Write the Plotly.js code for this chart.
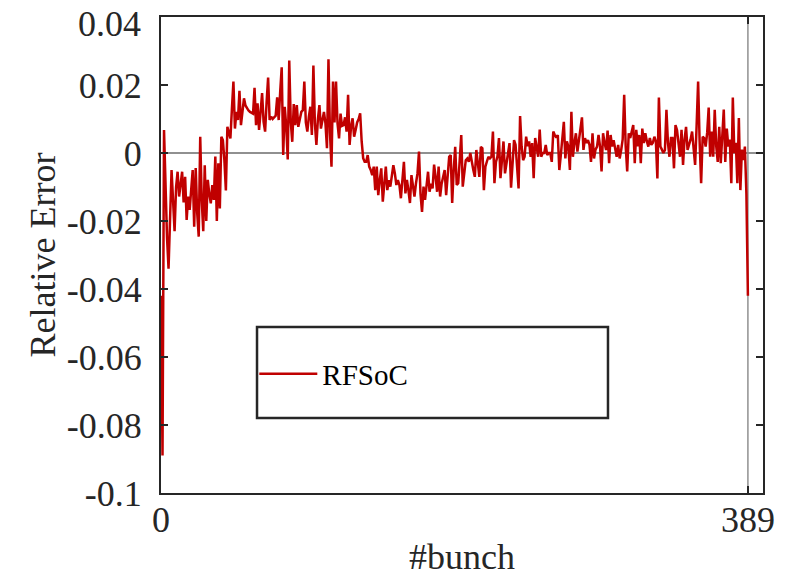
<!DOCTYPE html>
<html>
<head>
<meta charset="utf-8">
<script src="https://cdn.plot.ly/plotly-3.0.1.min.js"></script>
<style>
  html, body { margin: 0; padding: 0; background: #ffffff; }
  #chart { width: 785px; height: 577px; }
</style>
</head>
<body>
<div id="chart"></div>
<script>
// Relative error of the RFSoC measurement for each bunch (bunch 0 .. 389)
const bunchError = [
  -0.042, -0.089, 0.0068, -0.012, -0.025, -0.034, -0.016, -0.005, -0.014, -0.023,
  -0.010, -0.0055, -0.0128, -0.009, -0.0055, -0.0145, -0.007, -0.0197, -0.0128, -0.0167,
  -0.009, -0.005, -0.0217, -0.0044, -0.0177, -0.0246, 0.0048, -0.0138, -0.023, -0.0036,
  -0.020, -0.0079, -0.0120, -0.0148, -0.0094, -0.0138, -0.001, -0.020, -0.003, -0.0163,
  0.0048, 0.0038, -0.002, -0.011, 0.0077, 0.0060, 0.0043, 0.0130, 0.021, 0.0072,
  0.0121, 0.0097, 0.0183, 0.0082, 0.0120, 0.0161, 0.0140, 0.0131, 0.0125, 0.0121,
  0.0118, 0.0116, 0.0192, 0.0082, 0.0146, 0.0068, 0.0120, 0.0176, 0.0092, 0.0063,
  0.0150, 0.0222, 0.0097, 0.0107, 0.0100, 0.0105, 0.0110, 0.0164, 0.0097, 0.0180,
  0.0252, -0.0006, 0.0136, 0.0080, -0.0019, 0.0272, 0.0092, 0.0033, 0.0144, 0.0082,
  0.0141, 0.0077, 0.0100, 0.0121, 0.0126, 0.0210, 0.0090, 0.0063, 0.0107, 0.0136,
  0.0053, 0.0257, 0.0087, 0.0024, 0.0100, 0.0141, 0.0072, 0.0100, 0.0121, 0.0087,
  0.0014, 0.0276, 0.0060, -0.0040, 0.0210, 0.0090, 0.0210, 0.0087, 0.0043, 0.0116,
  0.0080, 0.0082, 0.0105, 0.0063, 0.0171, 0.0024, 0.0080, 0.0102, 0.0048, 0.0068,
  0.0090, 0.0100, 0.0117, 0.0034, -0.0015, -0.0026, -0.0026, -0.0006, -0.0040, -0.0050,
  -0.0065, -0.0040, -0.0109, -0.0040, -0.0124, -0.0080, -0.0045, -0.0143, -0.0090, -0.0040,
  -0.0109, -0.0080, -0.0099, -0.0065, -0.0036, -0.0060, -0.0094, -0.0080, -0.0094, -0.0133,
  -0.0070, -0.0026, -0.0119, -0.0079, -0.0110, -0.0147, -0.0065, -0.0100, -0.0128, -0.0089,
  -0.0060, 0.0004, -0.0120, -0.0173, -0.0099, -0.0138, -0.0090, -0.0055, -0.0114, -0.0090,
  -0.0104, -0.0034, -0.0070, -0.0114, -0.0040, -0.0128, -0.0090, -0.0074, -0.0050, -0.0124,
  -0.0060, -0.0011, -0.0006, -0.0147, -0.0050, 0.0018, -0.0094, -0.0089, -0.0020, 0.0053,
  -0.0099, -0.0050, -0.0021, -0.0016, -0.0026, 0.0000, -0.0030, -0.0050, -0.0070, 0.0009,
  -0.0030, -0.0070, 0.0018, 0.0014, -0.0109, -0.0040, -0.0025, -0.0011, -0.0016, -0.0011,
  0.0063, -0.0089, -0.0026, -0.0010, 0.0044, -0.0074, -0.0021, 0.0034, -0.0060, -0.0030,
  -0.0010, 0.0029, -0.0102, -0.0020, 0.0038, 0.0024, -0.0040, -0.0104, 0.0109, 0.0020,
  -0.0021, -0.0011, 0.0048, 0.0020, 0.0034, -0.0011, 0.0029, -0.0074, 0.0044, 0.0010,
  -0.0011, 0.0069, -0.0011, 0.0000, 0.0000, 0.0024, -0.0006, 0.0000, 0.0000, -0.0026,
  0.0063, 0.0053, 0.0045, 0.0053, -0.0050, -0.0006, 0.0040, 0.0092, -0.0016, 0.0034,
  0.0019, -0.0050, 0.0121, -0.0011, 0.0030, 0.0058, 0.0004, 0.0034, 0.0060, 0.0105,
  0.0009, 0.0044, 0.0030, 0.0038, 0.0024, -0.0026, 0.0058, -0.0016, 0.0010, 0.0019,
  0.0053, 0.0019, -0.0054, 0.0058, 0.0030, 0.0009, 0.0066, -0.0030, 0.0053, 0.0019,
  0.0038, 0.0010, -0.0011, 0.0024, -0.0016, 0.0009, 0.0040, 0.0171, 0.0019, -0.0054,
  0.0058, 0.0044, 0.0060, 0.0082, -0.0030, 0.0068, 0.0020, 0.0053, -0.0030, 0.0072,
  0.0029, 0.0058, 0.0035, 0.0019, 0.0044, 0.0024, 0.0030, 0.0048, 0.0034, -0.0075,
  0.0163, 0.0019, 0.0010, 0.0000, 0.0009, 0.0127, 0.0030, -0.0011, 0.0044, 0.0044,
  -0.0045, 0.0082, 0.0068, 0.0020, -0.0011, 0.0068, -0.0035, 0.0040, 0.0077, 0.0009,
  0.0024, 0.0040, 0.0063, 0.0019, -0.0035, 0.0080, 0.0210, 0.0034, -0.0089, 0.0048,
  0.0044, 0.0019, 0.0060, 0.0134, -0.0011, 0.0063, -0.0011, 0.0127, 0.0020, -0.0026,
  0.0077, -0.0030, 0.0050, 0.0128, -0.0026, 0.0072, 0.0019, 0.0040, -0.0089, 0.0163,
  0.0000, 0.0030, -0.0089, 0.0103, -0.0109, 0.0010, -0.0021, 0.0019, -0.0120, -0.042
];

// Bunch numbers 0 .. 389
const bunchIndex = bunchError.map((_, i) => i);

// Axis ticks and their labels
const yTickValues = [-0.1, -0.08, -0.06, -0.04, -0.02, 0, 0.02, 0.04];
const yTickLabels = ['-0.1', '-0.08', '-0.06', '-0.04', '-0.02', '0', '0.02', '0.04'];
const lastBunch = bunchIndex[bunchIndex.length - 1];
const xTickValues = [0, lastBunch];
const xTickLabels = ['0', String(lastBunch)];

const seriesName = 'RFSoC';

const serif = 'Liberation Serif, Times New Roman, serif';
const axisColor = '#262626';

// The topmost y label sits at the very edge of the figure, so it is
// written as an annotation nudged slightly downward to keep it inside.
const topIdx = yTickValues.length - 1;
const yTickTextOnAxis = yTickLabels.map((t, k) => (k === topIdx ? '' : t));

const trace = {
  x: bunchIndex,
  y: bunchError,
  type: 'scatter',
  mode: 'lines',
  name: seriesName,
  line: { color: '#c00000', width: 2.5 },
  showlegend: true
};

const layout = {
  width: 785,
  height: 577,
  paper_bgcolor: '#ffffff',
  plot_bgcolor: '#ffffff',
  margin: { l: 161, r: 22, t: 17, b: 84, pad: 0 },
  font: { family: serif, size: 36, color: axisColor },
  xaxis: {
    range: [0, 399],
    tickvals: xTickValues,
    ticktext: xTickLabels,
    ticks: 'inside',
    ticklen: 7,
    tickwidth: 2,
    tickcolor: axisColor,
    showline: true,
    linecolor: axisColor,
    linewidth: 2,
    mirror: 'ticks',
    showgrid: false,
    zeroline: false,
    ticklabelstandoff: -6,
    ticklabeloverflow: 'allow',
    tickfont: { family: serif, size: 36, color: axisColor },
    title: { text: '#bunch', font: { family: serif, size: 36, color: axisColor }, standoff: 22 },
    automargin: false
  },
  yaxis: {
    range: [-0.1, 0.04001],
    tickvals: yTickValues,
    ticktext: yTickTextOnAxis,
    ticks: 'inside',
    ticklen: 7,
    tickwidth: 2,
    tickcolor: axisColor,
    showline: true,
    linecolor: axisColor,
    linewidth: 2,
    mirror: 'ticks',
    showgrid: false,
    zeroline: true,
    zerolinecolor: '#909090',
    zerolinewidth: 1.5,
    ticklabelstandoff: 10,
    ticklabeloverflow: 'allow',
    tickfont: { family: serif, size: 36, color: axisColor },
    title: { text: 'Relative Error', font: { family: serif, size: 36, color: axisColor }, standoff: 0 },
    automargin: false
  },
  annotations: [
    {
      xref: 'paper', yref: 'y',
      x: 0, y: yTickValues[topIdx],
      xanchor: 'right', yanchor: 'middle',
      xshift: -18, yshift: -7,
      text: yTickLabels[topIdx],
      showarrow: false,
      font: { family: serif, size: 36, color: axisColor }
    }
  ],
  shapes: [
    // marker line at the last bunch
    {
      type: 'line', xref: 'x', yref: 'paper',
      x0: lastBunch, x1: lastBunch, y0: 0, y1: 1,
      line: { color: '#909090', width: 1.5 },
      layer: 'below'
    },
    // legend frame
    {
      type: 'rect', xref: 'paper', yref: 'paper',
      x0: 0.1595, x1: 0.7425, y0: 0.1576, y1: 0.3487,
      line: { color: axisColor, width: 2.5 },
      fillcolor: '#ffffff',
      layer: 'below'
    }
  ],
  showlegend: true,
  legend: {
    x: 0.155, y: 0.25,
    xanchor: 'left', yanchor: 'middle',
    bgcolor: 'rgba(0,0,0,0)',
    borderwidth: 0,
    font: { family: serif, size: 29, color: '#000000' },
    itemwidth: 58
  }
};

Plotly.newPlot('chart', [trace], layout, { staticPlot: true, displayModeBar: false });
</script>
</body>
</html>
